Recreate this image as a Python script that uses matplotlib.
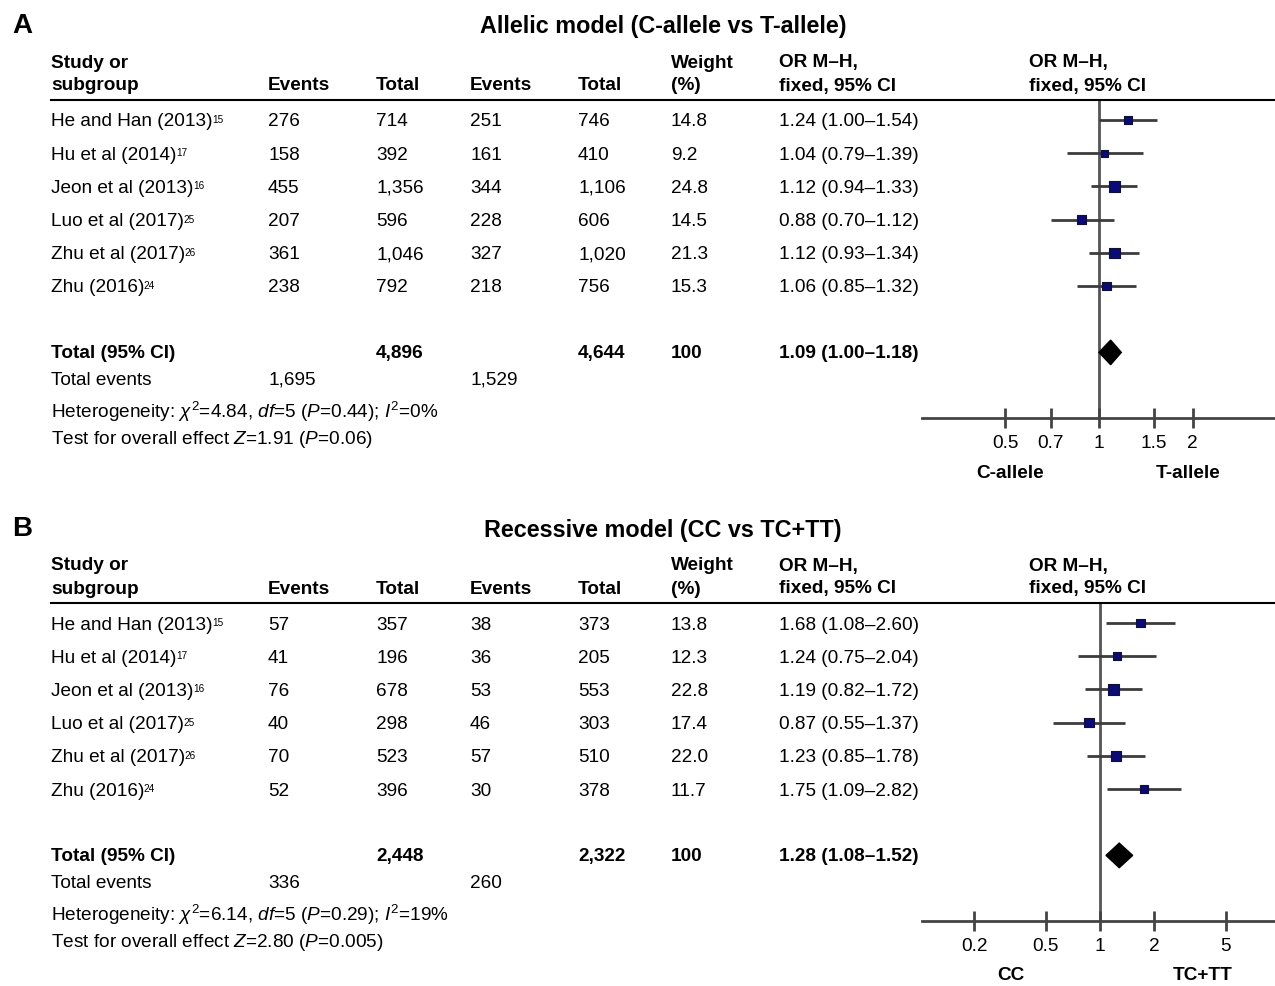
import numpy as np
import matplotlib
matplotlib.use("Agg")
import matplotlib.pyplot as plt
from matplotlib.lines import Line2D

plt.rcParams['font.family'] = ['Liberation Sans', 'DejaVu Sans']
plt.rcParams['mathtext.fontset'] = 'custom'
plt.rcParams['mathtext.rm'] = 'Liberation Sans'
plt.rcParams['mathtext.it'] = 'Liberation Sans:italic'
plt.rcParams['mathtext.bf'] = 'Liberation Sans:bold'

# ---------------- data ----------------
studies = ["He and Han (2013)", "Hu et al (2014)", "Jeon et al (2013)",
           "Luo et al (2017)", "Zhu et al (2017)", "Zhu (2016)"]
refs = ["15", "17", "16", "25", "26", "24"]

# Panel A: allelic model
a_title = "Allelic model (C-allele vs T-allele)"
a_ev1 = ["276", "158", "455", "207", "361", "238"]
a_tot1 = ["714", "392", "1,356", "596", "1,046", "792"]
a_ev2 = ["251", "161", "344", "228", "327", "218"]
a_tot2 = ["746", "410", "1,106", "606", "1,020", "756"]
a_weight = [14.8, 9.2, 24.8, 14.5, 21.3, 15.3]
a_or = [1.24, 1.04, 1.12, 0.88, 1.12, 1.06]
a_lo = [1.00, 0.79, 0.94, 0.70, 0.93, 0.85]
a_hi = [1.54, 1.39, 1.33, 1.12, 1.34, 1.32]
a_total = ["4,896", "4,644", "100"]
a_pooled = [1.09, 1.00, 1.18]
a_events = ["1,695", "1,529"]
a_het = r"Heterogeneity: $\chi^2$=4.84, $\mathit{df}$=5 ($\mathit{P}$=0.44); $\mathit{I}^2$=0%"
a_test = r"Test for overall effect $\mathit{Z}$=1.91 ($\mathit{P}$=0.06)"
a_ticks = [0.5, 0.7, 1, 1.5, 2]
a_ticklabels = ["0.5", "0.7", "1", "1.5", "2"]
a_sides = ["C-allele", "T-allele"]

# Panel B: recessive model
b_title = "Recessive model (CC vs TC+TT)"
b_ev1 = ["57", "41", "76", "40", "70", "52"]
b_tot1 = ["357", "196", "678", "298", "523", "396"]
b_ev2 = ["38", "36", "53", "46", "57", "30"]
b_tot2 = ["373", "205", "553", "303", "510", "378"]
b_weight = [13.8, 12.3, 22.8, 17.4, 22.0, 11.7]
b_or = [1.68, 1.24, 1.19, 0.87, 1.23, 1.75]
b_lo = [1.08, 0.75, 0.82, 0.55, 0.85, 1.09]
b_hi = [2.60, 2.04, 1.72, 1.37, 1.78, 2.82]
b_total = ["2,448", "2,322", "100"]
b_pooled = [1.28, 1.08, 1.52]
b_events = ["336", "260"]
b_het = r"Heterogeneity: $\chi^2$=6.14, $\mathit{df}$=5 ($\mathit{P}$=0.29); $\mathit{I}^2$=19%"
b_test = r"Test for overall effect $\mathit{Z}$=2.80 ($\mathit{P}$=0.005)"
b_ticks = [0.2, 0.5, 1, 2, 5]
b_ticklabels = ["0.2", "0.5", "1", "2", "5"]
b_sides = ["CC", "TC+TT"]

# ---------------- figure ----------------
W, H = 1275, 986
fig = plt.figure(figsize=(W / 100, H / 100), dpi=100)
renderer = fig.canvas.get_renderer()
FS = 13.7


def T(x, y, s, **kw):
    kw.setdefault('fontsize', FS)
    kw.setdefault('va', 'center')
    return fig.text(x / W, 1 - (y + 2) / H, s, **kw)


def sup(txt_artist, s):
    bb = txt_artist.get_window_extent(renderer=renderer)
    fig.text((bb.x1 - 0.5) / W, (bb.y1 - 1.5) / H, s, fontsize=7.2,
             ha='left', va='top')


cols = [51, 268, 376, 470, 578, 671, 779]
row_dy = 33.2


def panel(off, letter, title, ev1, tot1, ev2, tot2, weight, orv, lo, hi,
          total, pooled, events, het, test, ticks, ticklabels, xlim, sides,
          side_x):
    T(12, 24 + off, letter, fontsize=20, fontweight='bold')
    T(663, 25 + off, title, fontsize=16.8, fontweight='bold', ha='center')
    # headers
    T(cols[0], 61 + off, "Study or", fontweight='bold')
    T(cols[0], 84 + off, "subgroup", fontweight='bold')
    for c, lab in zip(cols[1:5], ["Events", "Total", "Events", "Total"]):
        T(c, 84 + off, lab, fontweight='bold')
    T(cols[5], 61 + off, "Weight", fontweight='bold')
    T(cols[5], 84 + off, "(%)", fontweight='bold')
    for c in (cols[6], 1029):
        T(c, 61 + off, "OR M\u2013H,", fontweight='bold')
        T(c, 84 + off, "fixed, 95% CI", fontweight='bold')
    fig.add_artist(Line2D([cols[0] / W, 1.0], [1 - (100 + off) / H] * 2,
                          color='black', lw=1.5))
    # rows
    y0 = 120 + off
    for i in range(len(studies)):
        y = y0 + i * row_dy
        t = T(cols[0], y, studies[i])
        sup(t, refs[i])
        T(cols[1], y, ev1[i])
        T(cols[2], y, tot1[i])
        T(cols[3], y, ev2[i])
        T(cols[4], y, tot2[i])
        T(cols[5], y, f"{weight[i]:.1f}")
        T(cols[6], y, f"{orv[i]:.2f} ({lo[i]:.2f}\u2013{hi[i]:.2f})")
    yt = y0 + 7 * row_dy - 1
    T(cols[0], yt, "Total (95% CI)", fontweight='bold')
    T(cols[2], yt, total[0], fontweight='bold')
    T(cols[4], yt, total[1], fontweight='bold')
    T(cols[5], yt, total[2], fontweight='bold')
    T(cols[6], yt, f"{pooled[0]:.2f} ({pooled[1]:.2f}\u2013{pooled[2]:.2f})",
      fontweight='bold')
    T(cols[0], yt + 27, "Total events")
    T(cols[1], yt + 27, events[0])
    T(cols[3], yt + 27, events[1])
    T(cols[0], yt + 59, het)
    T(cols[0], yt + 86, test)

    # forest plot
    ax_top, ax_bot = 100 + off, 418 + off
    ax = fig.add_axes([922 / W, 1 - ax_bot / H, (W - 922) / W, (ax_bot - ax_top) / H])
    rows = np.arange(len(studies))
    ax.set_xscale('log')
    ax.set_xlim(*xlim)
    ax.set_ylim((ax_bot - y0) / row_dy, (ax_top - y0) / row_dy)
    ax.axvline(1, color='#555555', lw=2, zorder=1)
    ax.hlines(rows, lo, hi, color='#3c3c3c', lw=2, zorder=2)
    sizes = (2.3 * np.sqrt(np.array(weight))) ** 2 * 0.5
    ax.scatter(orv, rows, marker='s', s=sizes, color='#0a0a78',
               edgecolor='#101030', lw=0.8, zorder=3)
    ty = 7
    dh = 0.37
    ax.fill([pooled[1], pooled[0], pooled[2], pooled[0]],
            [ty, ty - dh, ty, ty + dh], color='black', zorder=3)
    for s in ('top', 'right', 'left'):
        ax.spines[s].set_visible(False)
    ax.spines['bottom'].set_color('#444444')
    ax.spines['bottom'].set_linewidth(2)
    ax.set_yticks([])
    ax.xaxis.set_minor_locator(matplotlib.ticker.NullLocator())
    ax.set_xticks(ticks)
    ax.set_xticklabels(ticklabels, fontsize=FS)
    ax.tick_params(axis='x', direction='inout', length=14, width=2,
                   color='#444444', pad=5)
    ax.patch.set_alpha(0)
    T(side_x[0], 471 + off, sides[0], fontweight='bold', ha='center')
    T(side_x[1], 471 + off, sides[1], fontweight='bold', ha='center')


panel(0, "A", a_title, a_ev1, a_tot1, a_ev2, a_tot2, a_weight, a_or, a_lo, a_hi,
      a_total, a_pooled, a_events, a_het, a_test, a_ticks, a_ticklabels,
      (np.exp(-177 / 135.0), np.exp(176 / 135.0)), a_sides, (1010, 1188))
panel(503, "B", b_title, b_ev1, b_tot1, b_ev2, b_tot2, b_weight, b_or, b_lo, b_hi,
      b_total, b_pooled, b_events, b_het, b_test, b_ticks, b_ticklabels,
      (np.exp(-178 / 78.0), np.exp(175 / 78.0)), b_sides, (1011, 1203))

fig.savefig("out.png", dpi=100)
